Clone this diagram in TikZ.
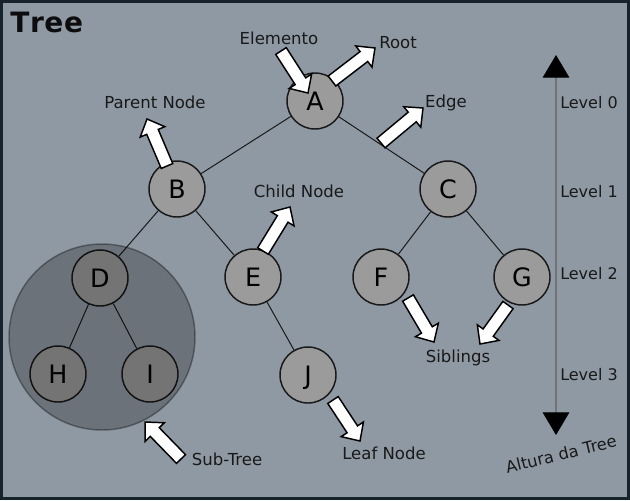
\documentclass[tikz,border=0pt]{standalone}
\usepackage{fontspec}
\setmainfont{DejaVu Sans}
\usepackage{tikz}
\usetikzlibrary{arrows.meta}
\usetikzlibrary{calc}
\definecolor{bgcol}{HTML}{8F99A3}
\definecolor{framecol}{HTML}{16222C}
\definecolor{nodecol}{HTML}{9B9B9B}
\newcommand{\shaftw}{4.7pt}
\newcommand{\headw}{10pt}
\newcommand{\headlen}{10.5pt}
\newcommand{\callout}[2]{%
  \coordinate (cb) at ($(#2)!\headlen!(#1)$);
  \draw [callout] ($(#1)!\shaftw!90:(#2)$) -- ($(cb)!\shaftw!-90:(#1)$)
    -- ($(cb)!\headw!-90:(#1)$) -- (#2) -- ($(cb)!\headw!90:(#1)$)
    -- ($(cb)!\shaftw!90:(#1)$) -- ($(#1)!\shaftw!-90:(#2)$) -- cycle;}
\tikzset{vertex/.style = {draw=black!90, line width=1.1pt, fill=nodecol, circle,
                          inner sep=0, minimum size=42pt,
                          font=\fontsize{19}{19}\selectfont, text height=13.9pt, text depth=0pt}}
\tikzset{edge/.style = {draw=black!90, line width=0.75pt}}
\tikzset{lbl/.style = {anchor=base, inner sep=0, text=black!90,
                       font=\fontsize{12.4}{15}\selectfont}}
\tikzset{callout/.style = {draw=black, fill=white, line width=1.1pt, line join=miter}}
\tikzset{subtree/.style = {circle, fill=black, fill opacity=0.25, draw=black, draw opacity=0.35,
                           line width=1.1pt, inner sep=0, minimum size=139.5pt}}
\tikzset{level/.style = {draw=black!55, line width=0.8pt,
                         arrows={Triangle[width=20pt, length=17pt, black]-Triangle[width=20pt, length=17pt, black]}}}

\begin{document}
\begin{tikzpicture}[x=0.75pt, y=-0.75pt]
      \useasboundingbox (0, 0) rectangle (630, 500);
      \fill [framecol] (0, 0) rectangle (630, 500);
      \fill [bgcol] (3, 3) rectangle (627, 497);

      \node [anchor=base west, inner sep=0, text=black!95,
             font=\fontsize{21}{21}\selectfont\bfseries] (title) at (10, 32) {T\kern0.5pt r\kern0.5pt e\kern0.5pt e};

      \node [vertex] (a) at (315, 101) {A};
      \node [vertex] (b) at (177, 189) {B};
      \node [vertex] (c) at (448, 189) {C};
      \node [vertex] (d) at (100, 278) {D};
      \node [vertex] (e) at (253, 277) {E};
      \node [vertex] (f) at (381, 277) {F};
      \node [vertex] (g) at (522, 277) {G};
      \node [vertex] (h) at (58, 374) {H};
      \node [vertex] (i) at (150, 374) {I};
      \node [vertex] (j) at (308, 375) {J};

      \draw [edge] (a) -- (b);
      \draw [edge] (a) -- (c);
      \draw [edge] (b) -- (d);
      \draw [edge] (b) -- (e);
      \draw [edge] (c) -- (f);
      \draw [edge] (c) -- (g);
      \draw [edge] (d) -- (h);
      \draw [edge] (d) -- (i);
      \draw [edge] (e) -- (j);

      \node [subtree] (sub) at (102, 337) {};

      \coordinate (elem-t) at (281, 51);
      \coordinate (elem-h) at (308, 93);
      \coordinate (root-t) at (332, 81);
      \coordinate (root-h) at (375, 48);
      \coordinate (par-t) at (167, 166);
      \coordinate (par-h) at (147, 119);
      \coordinate (edge-t) at (381, 143);
      \coordinate (edge-h) at (423, 108);
      \coordinate (child-t) at (263, 251);
      \coordinate (child-h) at (290, 207);
      \coordinate (sibf-t) at (408, 298);
      \coordinate (sibf-h) at (434, 342);
      \coordinate (sibg-t) at (508, 305);
      \coordinate (sibg-h) at (480, 344);
      \coordinate (leaf-t) at (333, 400);
      \coordinate (leaf-h) at (360, 441);
      \coordinate (sub-t) at (181, 459);
      \coordinate (sub-h) at (145, 422);

      \callout{elem-t}{elem-h}
      \callout{root-t}{root-h}
      \callout{par-t}{par-h}
      \callout{edge-t}{edge-h}
      \callout{child-t}{child-h}
      \callout{sibf-t}{sibf-h}
      \callout{sibg-t}{sibg-h}
      \callout{leaf-t}{leaf-h}
      \callout{sub-t}{sub-h}

      \node [lbl] (elemento) at (279, 44) {Elemento};
      \node [lbl] (rootlbl) at (398, 48) {Root};
      \node [lbl] (parent) at (155, 108) {Parent Node};
      \node [lbl] (edgelbl) at (446, 107) {Edge};
      \node [lbl] (child) at (299, 197) {Child Node};
      \node [lbl] (siblings) at (458, 362) {Siblings};
      \node [lbl] (leaf) at (384, 459) {Leaf Node};
      \node [lbl] (sublbl) at (227, 465) {Sub-Tree};

      \coordinate (lv-top) at (556, 55);
      \coordinate (lv-bot) at (556, 435);
      \draw [level] (lv-top) -- (lv-bot);

      \node [lbl, font=\fontsize{12}{14}\selectfont] (lv0) at (589, 108) {Level 0};
      \node [lbl, font=\fontsize{12}{14}\selectfont] (lv1) at (589, 197) {Level 1};
      \node [lbl, font=\fontsize{12}{14}\selectfont] (lv2) at (589, 279) {Level 2};
      \node [lbl, font=\fontsize{12}{14}\selectfont] (lv3) at (589, 380) {Level 3};
      \node [lbl, anchor=center, rotate=13.7, font=\fontsize{12.2}{14}\selectfont]
            (altura) at (561, 454) {Altura da Tree};
\end{tikzpicture}
\end{document}
